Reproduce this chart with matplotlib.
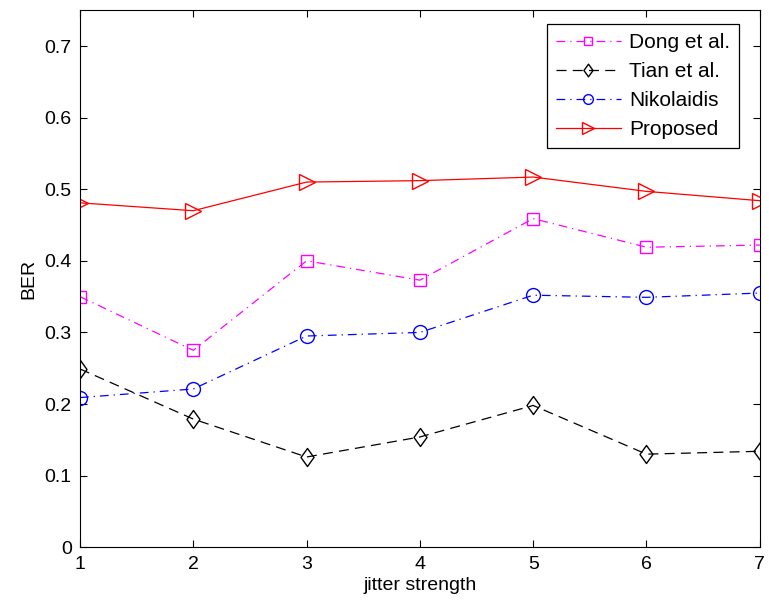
import matplotlib.pyplot as plt
from matplotlib.path import Path

plt.rcParams['font.family'] = ['Liberation Sans', 'DejaVu Sans']

# jitter strength values
jitter = [1, 2, 3, 4, 5, 6, 7]

# BER per method
ber_dong = [0.350, 0.275, 0.400, 0.373, 0.459, 0.419, 0.422]
ber_tian = [0.249, 0.179, 0.126, 0.154, 0.198, 0.130, 0.134]
ber_nikolaidis = [0.209, 0.221, 0.295, 0.300, 0.352, 0.349, 0.355]
ber_proposed = [0.481, 0.470, 0.510, 0.512, 0.517, 0.497, 0.484]

# diamond a bit wider than matplotlib's thin 'd'
rombo = Path([(0, 1), (0.72, 0), (0, -1), (-0.72, 0), (0, 1)],
             [Path.MOVETO, Path.LINETO, Path.LINETO, Path.LINETO, Path.CLOSEPOLY])

fig = plt.figure(figsize=(7.69, 6.02), dpi=100)
ax = fig.add_axes([0.104, 0.091, 0.884, 0.892])

ax.plot(jitter, ber_dong, color='#ff00ff', linestyle=(0, (7, 4, 1, 4)), linewidth=0.9,
        marker='s', markersize=8.5, markerfacecolor='none', label='Dong et al.')
ax.plot(jitter, ber_tian, color='black', linestyle=(0, (8, 5)), linewidth=0.9,
        marker=rombo, markersize=13, markerfacecolor='none', label='Tian et al.')
ax.plot(jitter, ber_nikolaidis, color='blue', linestyle=(0, (7, 4, 1, 4)), linewidth=0.9,
        marker='o', markersize=10, markerfacecolor='none', label='Nikolaidis')
ax.plot(jitter, ber_proposed, color='red', linestyle='-', linewidth=0.9,
        marker='>', markersize=12, markerfacecolor='none', label='Proposed')

ax.set_xlim(1, 7)
ax.set_ylim(0, 0.75)
ax.set_xticks(jitter)
ax.set_yticks([0, 0.1, 0.2, 0.3, 0.4, 0.5, 0.6, 0.7])
ax.set_yticklabels(['0', '0.1', '0.2', '0.3', '0.4', '0.5', '0.6', '0.7'])
ax.tick_params(direction='in', top=True, right=True, labelsize=14, length=5, pad=6)
ax.set_xlabel('jitter strength', fontsize=14, labelpad=3)
ax.set_ylabel('BER', fontsize=14, labelpad=5)

leg = ax.legend(loc='upper right', bbox_to_anchor=(0.97, 0.975), fontsize=15,
                fancybox=False, edgecolor='black', framealpha=1, handlelength=3.1,
                handletextpad=0.4, borderpad=0.45, borderaxespad=0, labelspacing=0.48,
                markerscale=0.7)
leg.get_frame().set_linewidth(0.9)

fig.savefig('out.png', dpi=100)
